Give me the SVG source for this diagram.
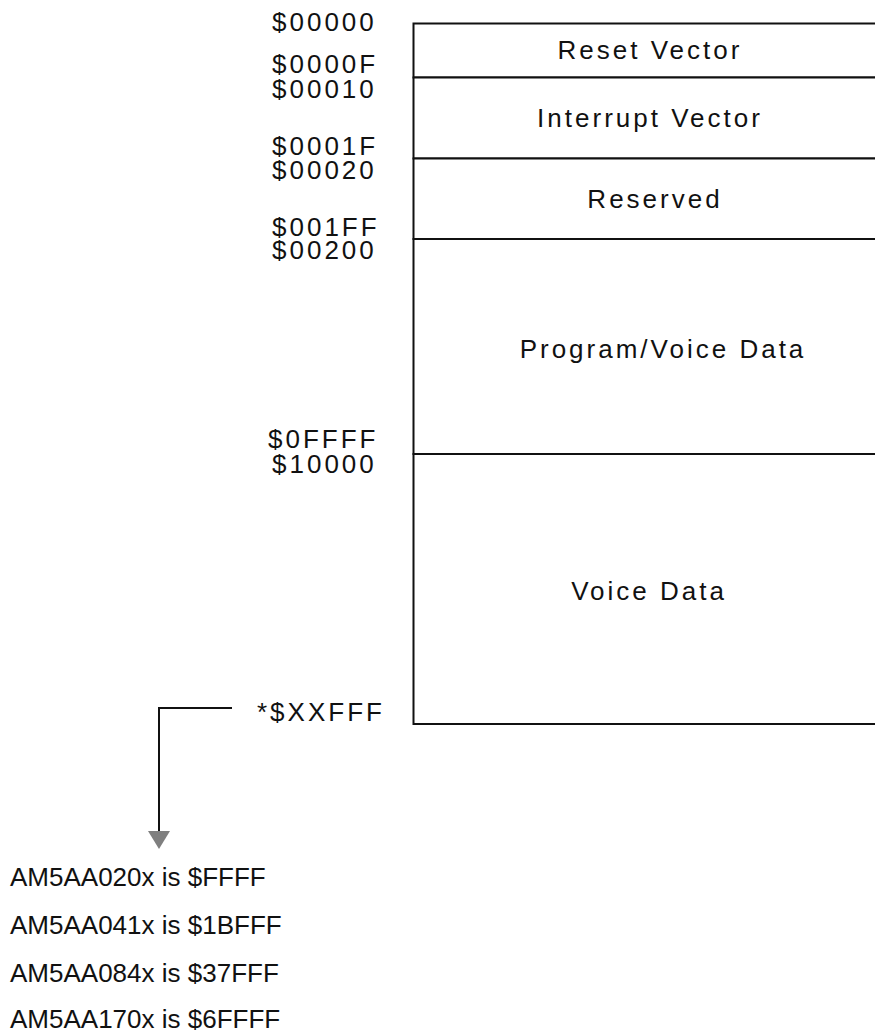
<svg xmlns="http://www.w3.org/2000/svg" width="875" height="1032" viewBox="0 0 875 1032">
<style>
.region{fill:#fff;stroke:#111;stroke-width:2}
.lbl{font-family:"Liberation Sans",Arial,sans-serif;font-size:26px;letter-spacing:3px;fill:#111}
.mid{text-anchor:middle}
.note{font-family:"Liberation Sans",Arial,sans-serif;font-size:26px;fill:#111}
.conn{fill:none;stroke:#111;stroke-width:2}
</style>
<rect width="875" height="1032" fill="#fff"/>
<g id="reset-vector">
<rect class="region" x="413.5" y="23.5" width="480" height="54"/>
<text class="lbl mid" x="650" y="59">Reset Vector</text>
</g>
<g id="interrupt-vector">
<rect class="region" x="413.5" y="77.5" width="480" height="81"/>
<text class="lbl mid" x="650" y="127">Interrupt Vector</text>
</g>
<g id="reserved">
<rect class="region" x="413.5" y="158.5" width="480" height="80.5"/>
<text class="lbl mid" x="655" y="208">Reserved</text>
</g>
<g id="program-voice-data">
<rect class="region" x="413.5" y="239" width="480" height="215"/>
<text class="lbl mid" x="663" y="358">Program/Voice Data</text>
</g>
<g id="voice-data">
<rect class="region" x="413.5" y="454" width="480" height="270"/>
<text class="lbl mid" x="649" y="600">Voice Data</text>
</g>
<g id="addresses">
<text class="lbl" x="272" y="31">$00000</text>
<text class="lbl" x="272" y="73">$0000F</text>
<text class="lbl" x="272" y="98">$00010</text>
<text class="lbl" x="272" y="155">$0001F</text>
<text class="lbl" x="272" y="179">$00020</text>
<text class="lbl" x="272" y="236">$001FF</text>
<text class="lbl" x="272" y="259">$00200</text>
<text class="lbl" x="268" y="448">$0FFFF</text>
<text class="lbl" x="272" y="473">$10000</text>
</g>
<g id="end-address">
<text class="lbl" x="257" y="721">*$XXFFF</text>
</g>
<g id="connectors">
<polyline class="conn" points="232,708 159,708 159,832"/>
<polygon points="148,831 170,831 159,849" fill="#7f7f7f"/>
</g>
<g id="device-list">
<text class="note" x="10" y="886">AM5AA020x is $FFFF</text>
<text class="note" x="10" y="934">AM5AA041x is $1BFFF</text>
<text class="note" x="10" y="982">AM5AA084x is $37FFF</text>
<text class="note" x="10" y="1028">AM5AA170x is $6FFFF</text>
</g>
</svg>
